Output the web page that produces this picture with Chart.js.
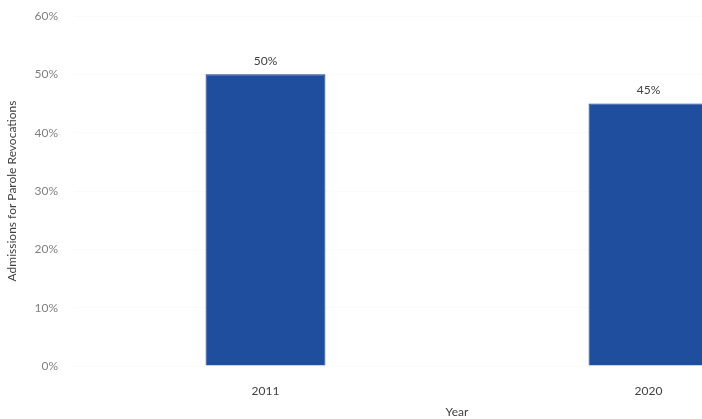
<!DOCTYPE html>
<html>
<head>
<meta charset="utf-8">
<script src="https://cdn.jsdelivr.net/npm/chart.js@4/dist/chart.umd.min.js"></script>
<style>
  html, body { margin: 0; padding: 0; background: #fff; overflow: hidden; }
  #wrap { width: 850px; height: 419px; }
</style>
</head>
<body>
<div id="wrap"><canvas id="chart" width="850" height="419"></canvas></div>
<script>
const years = ["2011", "2020"];
const revocationShare = [50, 45];
const yTicks = [0, 10, 20, 30, 40, 50, 60];

/* value labels over each bar */
const barLabels = {
  id: "barLabels",
  afterDatasetsDraw(chart) {
    const ctx = chart.ctx;
    const meta = chart.getDatasetMeta(0);
    ctx.save();
    ctx.font = "12px Lato, 'Open Sans', sans-serif";
    ctx.fillStyle = "#404040";
    ctx.textAlign = "center";
    ctx.textBaseline = "bottom";
    meta.data.forEach((bar, i) => {
      ctx.fillText(revocationShare[i] + "%", bar.x, bar.y - 7);
    });
    ctx.restore();
  }
};

new Chart(document.getElementById("chart"), {
  type: "bar",
  data: {
    labels: years,
    datasets: [{
      data: revocationShare,
      backgroundColor: "#1f4e9e",
      borderColor: "#1b3f92",
      borderWidth: 1,
      categoryPercentage: 1,
      barPercentage: 0.313
    }]
  },
  options: {
    responsive: false,
    animation: false,
    layout: { padding: { top: 16, right: 10, left: 0, bottom: 0 } },
    plugins: {
      legend: { display: false },
      tooltip: { enabled: false }
    },
    scales: {
      x: {
        grid: { display: false },
        border: { display: false },
        ticks: {
          color: "#404040",
          font: { family: "Lato, 'Open Sans', sans-serif", size: 12 },
          padding: 10
        },
        title: {
          display: true,
          text: "Year",
          color: "#404040",
          font: { family: "Lato, 'Open Sans', sans-serif", size: 12 },
          padding: { top: 2, bottom: 0 }
        },
        afterFit(scale) {
          scale.height = 53;
          scale.paddingLeft = 0;
          scale.paddingRight = 0;
        }
      },
      y: {
        min: 0,
        max: 60,
        afterBuildTicks(scale) { scale.ticks = yTicks.map(v => ({ value: v })); },
        grid: { color: "#fafafa", drawTicks: false },
        border: { display: false },
        ticks: {
          color: "#808080",
          font: { family: "Lato, 'Open Sans', sans-serif", size: 12 },
          padding: 16,
          callback: v => v + "%"
        },
        title: {
          display: true,
          text: "Admissions for Parole Revocations",
          color: "#404040",
          font: { family: "Lato, 'Open Sans', sans-serif", size: 12 },
          padding: { top: 5, bottom: 4 }
        },
        afterFit(scale) {
          scale.width = 74;
          scale.paddingTop = 0;
          scale.paddingBottom = 0;
        }
      }
    }
  },
  plugins: [barLabels]
});
</script>
</body>
</html>
